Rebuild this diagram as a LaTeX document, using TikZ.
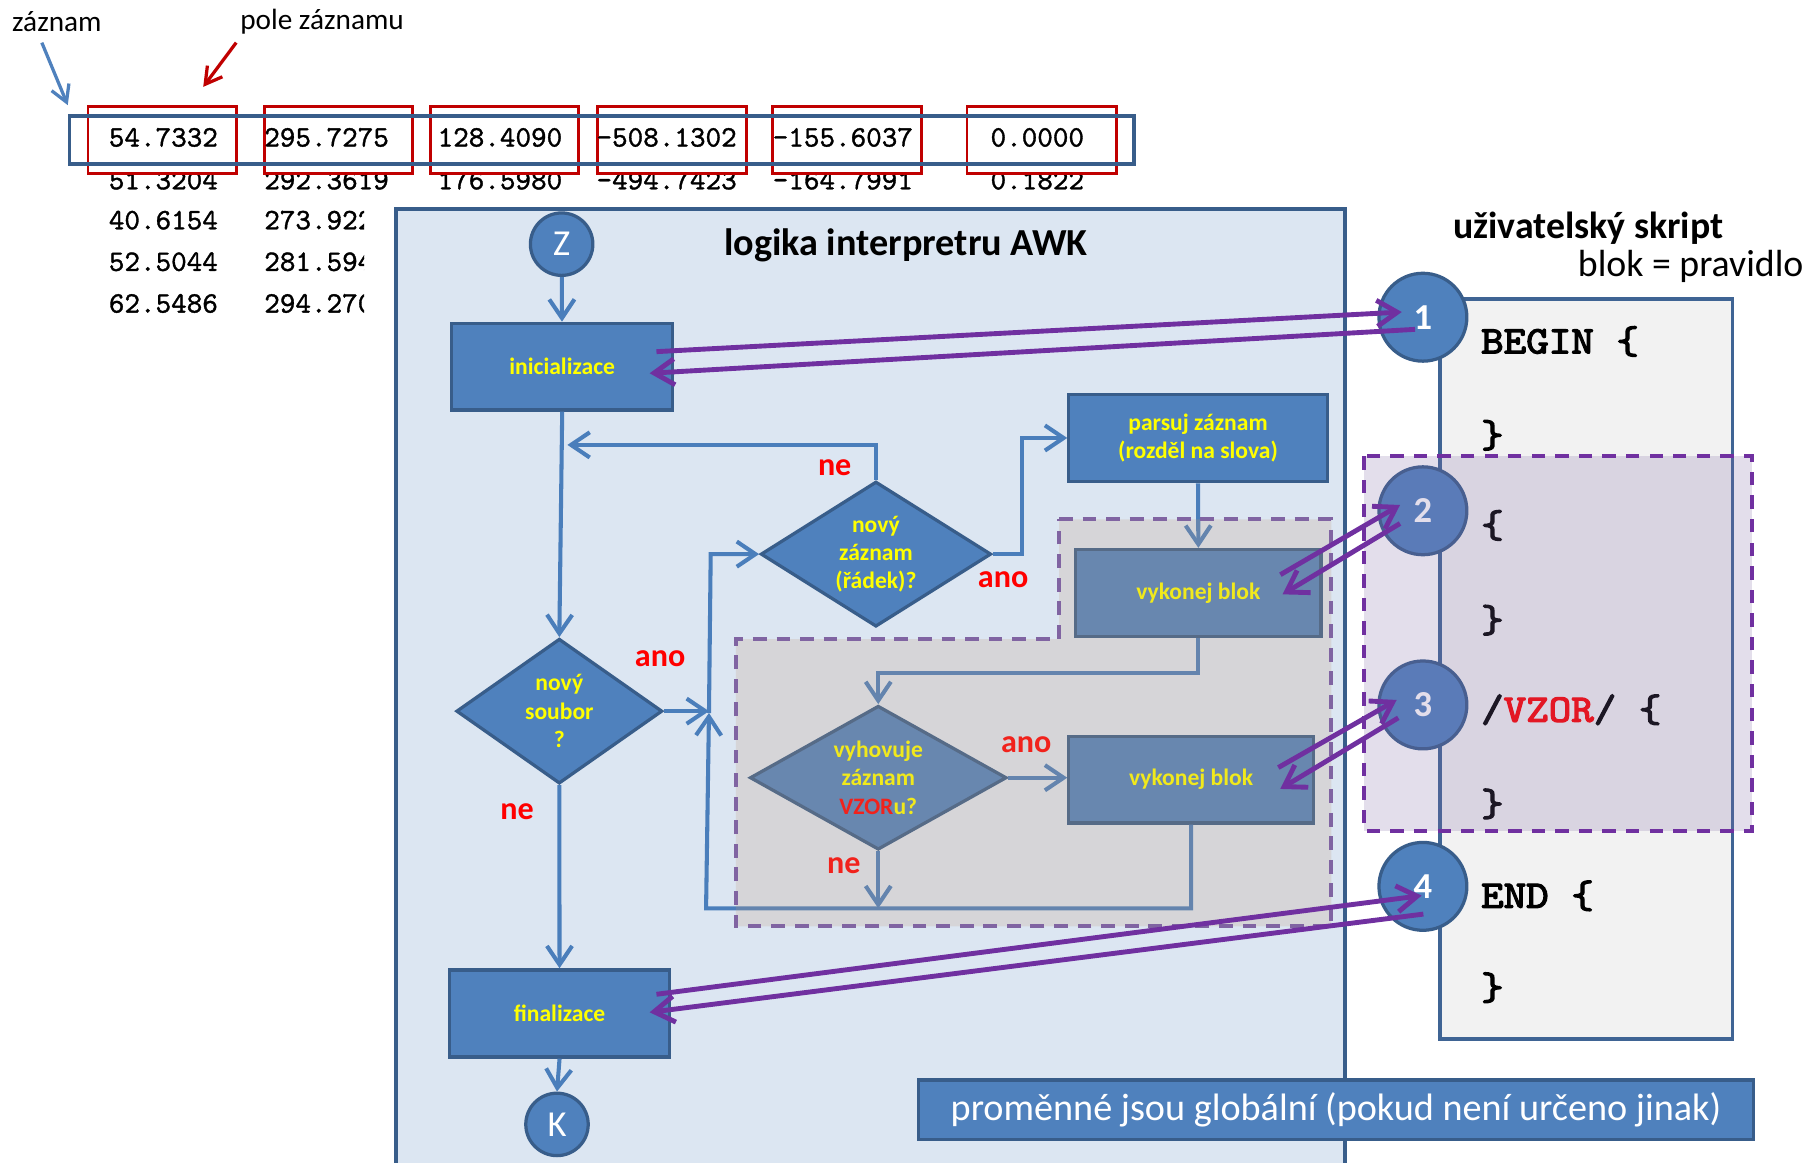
\documentclass[tikz,border=0pt]{standalone}
\usepackage{fontspec}
\setmainfont{Carlito}
\newfontfamily\codef{lmmono10-regular.otf}[FakeBold=3]
\newfontfamily\numf{lmmono10-regular.otf}[FakeBold=1.2]
\usetikzlibrary{arrows.meta,shapes.geometric,calc}
\definecolor{bfill}{HTML}{4F81BD}
\definecolor{bdark}{HTML}{385D8A}
\definecolor{flowc}{HTML}{4A7EBB}
\definecolor{panelc}{HTML}{DCE6F2}
\definecolor{purp}{HTML}{7030A0}
\definecolor{purpd}{HTML}{8064A2}
\definecolor{boxred}{HTML}{C00000}
\definecolor{labred}{HTML}{FF0000}
\definecolor{scriptf}{HTML}{F2F2F2}
\definecolor{scriptb}{HTML}{3F6494}
\definecolor{greyov}{RGB}{193,157,128}
\definecolor{purpov}{RGB}{130,106,167}
\definecolor{ylw}{HTML}{FFFF00}
\newcommand{\codetxt}[1]{\scalebox{1.1}[1]{#1}}
\begin{document}
\begin{tikzpicture}[x=0.01cm, y=-0.01cm,
  flow/.style={draw=flowc, line width=1pt, -{Straight Barb[length=4.6pt,width=6.2pt]}},
  bluebox/.style={rectangle, draw=bdark, fill=bfill, line width=0.8pt, text=ylw,
    font=\fontsize{5.8}{7}\selectfont\bfseries, align=center, inner sep=0pt},
  decision/.style={diamond, aspect=1.6, draw=bdark, fill=bfill, line width=0.8pt, text=ylw,
    font=\fontsize{5.8}{7}\selectfont\bfseries, align=center, inner sep=0pt},
  conn/.style={circle, draw=bdark, fill=bfill, line width=0.8pt, text=white, inner sep=0pt,
    minimum size=0.54cm, font=\fontsize{9}{10}\selectfont},
  numc/.style={circle, draw=bdark, fill=bfill, line width=0.8pt, text=white, inner sep=0pt,
    minimum size=0.76cm, font=\fontsize{9}{10}\selectfont\bfseries},
  lbl/.style={text=labred, font=\fontsize{7.9}{9}\selectfont\bfseries, inner sep=0pt},
  parrow/.style={draw=purp, line width=1.2pt, -{Straight Barb[length=5pt,width=6.4pt]}},
  code/.style={anchor=base west, inner sep=0pt, font=\codef\fontsize{9.6}{10}\selectfont},
  num/.style={anchor=base west, inner sep=0pt, font=\numf\fontsize{7.3}{8}\selectfont},
  rbox/.style={rectangle, draw=boxred, fill=white, line width=0.7pt, inner sep=0pt, minimum height=0.577cm},
  toplbl/.style={inner sep=0pt, font=\fontsize{7.2}{8}\selectfont},
]
\fill[white] (0,0) rectangle (1568,1006);
\useasboundingbox (0,0) rectangle (1568,1006);

% ---------- top: records ----------
\node[toplbl] (lzaz) at (49.2,18.8) {záznam};
\node[toplbl] (lpole) at (278.7,18.8) {pole záznamu};

% row 2 (under the field boxes)
\node[num] (r21) at (93.5,163.8) {51.3204};
\node[num] (r22) at (228,163.8) {292.3619};
\node[num] (r23) at (378,163.8) {176.5980};
\node[num] (r24) at (515.5,163.8) {-494.7423};
\node[num] (r25) at (668,163.8) {-164.7991};
\node[num] (r26) at (856.5,163.8) {0.1822};
% rows 3-5
\node[num] (r31) at (93.5,198.4) {40.6154};
\node[num] (r41) at (93.5,234.4) {52.5044};
\node[num] (r51) at (93.5,270.5) {62.5486};
\begin{scope}
  \clip (200,170) rectangle (315,290);
  \node[num] (r32) at (228,198.4) {273.9221};
  \node[num] (r42) at (228,234.4) {281.5943};
  \node[num] (r52) at (228,270.5) {294.2706};
\end{scope}

% field boxes
\node[rbox, minimum width=1.282cm] (f1) at (140.3,121.15) {};
\node[rbox, minimum width=1.282cm] (f2) at (292.7,121.15) {};
\node[rbox, minimum width=1.282cm] (f3) at (436.8,121.15) {};
\node[rbox, minimum width=1.282cm] (f4) at (581.5,121.15) {};
\node[rbox, minimum width=1.288cm] (f5) at (733,121.15) {};
\node[rbox, minimum width=1.295cm] (f6) at (901.55,121.15) {};
% record box
\node[rectangle, draw=bdark, line width=0.8pt, inner sep=0pt, minimum width=9.207cm, minimum height=0.415cm] (rec) at (520.65,121.15) {};
% row 1
\node[num] (r11) at (93.5,126.8) {54.7332};
\node[num] (r12) at (228,126.8) {295.7275};
\node[num] (r13) at (378,126.8) {128.4090};
\node[num] (r14) at (515.5,126.8) {-508.1302};
\node[num] (r15) at (668,126.8) {-155.6037};
\node[num] (r16) at (856.5,126.8) {0.0000};

\coordinate (azs) at (36.2,36.9);
\draw[bfill, line width=0.8pt, -{Straight Barb[length=4pt,width=4.6pt]}] (azs) -- ($(rec.north west)+(0,-8)$);
\coordinate (aps) at (204.4,36.9);
\draw[boxred, line width=0.8pt, -{Straight Barb[length=4pt,width=4.6pt]}] (aps) -- ($(f1.north east)+(-29.8,-15.9)$);

% ---------- interpreter panel ----------
\fill[panelc] (342.8,181) rectangle (1164,1015);
\draw[bdark, line width=1pt] (342.8,1015) -- (342.8,181) -- (1164,181) -- (1164,1015);
\node[inner sep=0pt, font=\fontsize{9.4}{11}\selectfont\bfseries] (title) at (784,212) {logika interpretru AWK};

\node[conn] (Z) at (486,211.3) {Z};
\node[bluebox, minimum width=1.914cm, minimum height=0.75cm] (ini) at (486.5,317.3) {inicializace};
\node[decision, minimum width=1.993cm, minimum height=1.255cm] (nz) at (758,479.5) {nový\\záznam\\(řádek)?};
\node[bluebox, minimum width=2.234cm, minimum height=0.757cm] (parse) at (1036.7,379) {parsuj záznam\\(rozděl na slova)};
\node[bluebox, minimum width=2.12cm, minimum height=0.75cm] (vb1) at (1037,513) {vykonej blok};
\node[decision, minimum width=1.782cm, minimum height=1.253cm] (ns) at (484,615.4) {nový\\soubor\\?};
\node[decision, minimum width=2.22cm, minimum height=1.245cm] (vy) at (760,673) {vyhovuje\\záznam\\\textcolor{labred}{VZOR}u?};
\node[bluebox, minimum width=2.114cm, minimum height=0.748cm] (vb2) at (1030.7,674.7) {vykonej blok};
\node[bluebox, minimum width=1.9cm, minimum height=0.754cm] (fin) at (484.2,877) {finalizace};
\node[conn] (K) at (482,973) {K};

\node[lbl] (ne1) at (722.3,404.6) {ne};
\node[lbl] (ano1) at (868,502) {ano};
\node[lbl] (ano2) at (571.2,570.4) {ano};
\node[lbl] (ne2) at (447.4,702.2) {ne};
\node[lbl] (ano3) at (888,644.7) {ano};
\node[lbl] (ne3) at (730.3,749) {ne};

\coordinate (ret) at (491,385);
\coordinate (lpb) at (611,786);
\coordinate (jn) at (613.5,617);
\coordinate (lpt) at (615,479.5);

\draw[flow] (Z) -- (ini);
\draw[flow] (ini.south) -- (ns.north);
\draw[flow] (nz.north) |- (ret);
\draw[flow] (nz.east) -- ++(25,0) |- (parse.west);
\draw[flow] (parse.south) -- (vb1.north);
\draw[flow] (vb1.south) -- ++(0,30.5) -| (vy.north);
\draw[flow] (vy.east) -- (vy.east -| vb2.west);
\draw[flow] (vy.south) -- (vy.south |- lpb);
\draw[flow] (vb2.south) |- (lpb) -- (jn);
\draw[flow] (ns.east) -- (ns.east -| jn);
\draw[flow] (jn) -- (lpt) -- (nz.west);
\draw[flow] (ns.south) -- (fin.north);
\draw[flow] (fin.south) -- (K.north);

% ---------- user script ----------
\node[inner sep=0pt, font=\fontsize{9.3}{11}\selectfont\bfseries] (uzs) at (1374.5,197.6) {uživatelský skript};
\node[inner sep=0pt, font=\fontsize{9.3}{11}\selectfont] (bp) at (1463,230.8) {blok = pravidlo};
\node[rectangle, draw=scriptb, fill=scriptf, line width=0.9pt, inner sep=0pt, minimum width=2.529cm, minimum height=6.4cm] (script) at (1372.55,578.7) {};
\node[code] (s1) at (1281,305.8) {\codetxt{BEGIN \{}};
\node[code] (s2) at (1281,387) {\codetxt{\}}};
\node[code] (s3) at (1281,465) {\codetxt{\{}};
\node[code] (s4) at (1281,547) {\codetxt{\}}};
\node[code] (s5) at (1281,624.5) {\codetxt{/\textcolor{labred}{VZOR}/ \{}};
\node[code] (s6) at (1281,706) {\codetxt{\}}};
\node[code] (s7) at (1281,785.5) {\codetxt{END \{}};
\node[code] (s8) at (1281,865) {\codetxt{\}}};

\node[numc] (c1) at (1231.3,274.5) {1};
\node[numc] (c2) at (1231.3,442) {2};
\node[numc] (c3) at (1231.3,610) {3};
\node[numc] (c4) at (1231.3,767) {4};

% ---------- overlays ----------
\fill[greyov, fill opacity=0.22] (916.4,449.4) -- (1152,449.4) -- (1152,801.7) -- (636.8,801.7) -- (636.8,553) -- (916.4,553) -- cycle;
\draw[purpd, line width=1pt, dash pattern=on 3.4pt off 2.4pt] (916.4,449.4) -- (1152,449.4) -- (1152,801.7) -- (636.8,801.7) -- (636.8,553) -- (916.4,553) -- cycle;
\fill[purpov, fill opacity=0.22] (1180.4,395) rectangle (1516,719);
\draw[purp, line width=1pt, dash pattern=on 3.3pt off 2.5pt] (1180.4,395) rectangle (1516,719);

% ---------- purple links ----------
\draw[parrow] ($(ini.east)+(-15.6,-13)$) -- ($(c1.center)+(-18.3,-4.5)$);
\draw[parrow] ($(c1.center)+(-6.8,10.5)$) -- ($(ini.east)+(-21.5,5.7)$);
\draw[parrow] ($(vb1.east)+(-36.5,-15.7)$) -- ($(c2.center)+(-19.8,-5)$);
\draw[parrow] ($(c2.center)+(-19.8,11)$) -- ($(vb1.east)+(-34.6,1.3)$);
\draw[parrow] ($(vb2.east)+(-31.7,-10.5)$) -- ($(c3.center)+(-22.7,-4.3)$);
\draw[parrow] ($(c3.center)+(-21.3,11.2)$) -- ($(vb2.east)+(-30,8)$);
\draw[parrow] ($(fin.east)+(-12.6,-16.6)$) -- ($(c4.center)+(-1.1,8)$);
\draw[parrow] ($(c4.center)+(0.4,24)$) -- ($(fin.east)+(-18.5,-1)$);

% ---------- banner ----------
\node[rectangle, draw=bdark, fill=bfill, line width=0.9pt, inner sep=0pt, minimum width=7.223cm, minimum height=0.513cm, text=white, font=\fontsize{9.4}{11}\selectfont] (glob) at (1156.15,960.25) {proměnné jsou globální (pokud není určeno jinak)};
\end{tikzpicture}
\end{document}
